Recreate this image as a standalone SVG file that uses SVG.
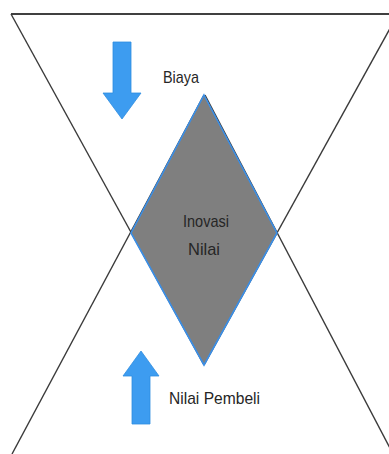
<svg xmlns="http://www.w3.org/2000/svg" width="389" height="454" viewBox="0 0 389 454">
<style>
.ln{stroke:#3a3a3a;stroke-width:1.4;fill:none}
.top{stroke:#404040;stroke-width:2.2;fill:none}
.arrow{fill:#3d9cf0;stroke:#2f8de0;stroke-width:0.8}
.txt{font-family:"Liberation Sans",Arial,sans-serif;font-size:17px;fill:#262626}
</style>
<rect width="389" height="454" fill="#ffffff"/>
<g id="connectors">
<line class="top" x1="11" y1="14" x2="392" y2="14"/>
<line class="ln" x1="11" y1="14" x2="204" y2="365"/>
<line class="ln" x1="398" y1="14" x2="204" y2="365"/>
<line class="ln" x1="12" y1="454" x2="204" y2="95"/>
<line class="ln" x1="205" y1="95" x2="392" y2="452"/>
</g>
<g id="node-inovasi">
<polygon points="204,95 277,233 204,365 131,233" fill="#7f7f7f" stroke="#3a8ee6" stroke-width="1.6"/>
<text class="txt" x="206" y="227" text-anchor="middle" textLength="46" lengthAdjust="spacingAndGlyphs">Inovasi</text>
<text class="txt" x="204" y="255" text-anchor="middle" textLength="32" lengthAdjust="spacingAndGlyphs">Nilai</text>
</g>
<g id="node-biaya">
<polygon class="arrow" points="113,42 131,42 131,93 141,93 122,119 103,93 113,93"/>
<text class="txt" x="163" y="83" textLength="36" lengthAdjust="spacingAndGlyphs">Biaya</text>
</g>
<g id="node-nilai-pembeli">
<polygon class="arrow" points="141,351 159,376 150,376 150,424 132,424 132,376 123,376"/>
<text class="txt" x="169" y="404" textLength="91" lengthAdjust="spacingAndGlyphs">Nilai Pembeli</text>
</g>
</svg>
